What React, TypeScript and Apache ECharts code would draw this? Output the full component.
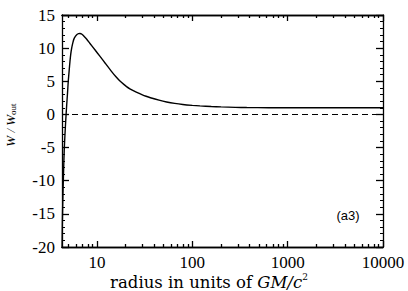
import React, { useEffect, useRef } from "react";
import * as echarts from "echarts";

const radius = [4.29, 4.33, 4.39, 4.45, 4.5, 4.55, 4.61, 4.7, 4.8, 4.9, 4.99, 5.1, 5.2, 5.3, 5.42, 5.57, 5.73, 5.95, 6.16, 6.4, 6.62, 6.95, 7.29, 7.8, 8.43, 9.5, 10.7, 12.3, 14.1, 15.8, 17.4, 19.1, 20.4, 22.1, 24.0, 26.9, 29.5, 32.7, 36.3, 44.7, 53.7, 65.3, 79.4, 100, 120, 158, 200, 282, 372, 631, 1000, 3000, 10000];
const wRatio = [-21, -16, -12, -9, -6.5, -4.7, -3, -0.8, 1.3, 3.2, 5, 6.6, 8, 9.1, 10, 10.8, 11.4, 11.8, 12.05, 12.18, 12.2, 12.1, 11.8, 11.35, 10.7, 9.75, 8.8, 7.65, 6.54, 5.68, 5.04, 4.53, 4.2, 3.87, 3.59, 3.24, 2.99, 2.74, 2.52, 2.15, 1.88, 1.66, 1.5, 1.37, 1.29, 1.195, 1.135, 1.07, 1.035, 1.015, 1.005, 1.0, 1.0];

const xMajorTicks = [10, 100, 1000, 10000];
const xMinorTicks = [5, 6, 7, 8, 9, 20, 30, 40, 50, 60, 70, 80, 90, 200, 300, 400, 500, 600, 700, 800, 900, 2000, 3000, 4000, 5000, 6000, 7000, 8000, 9000];
const xLabels = [10, 100, 1000, 10000];
const xMin = 4.29;
const xMax = 10000;
const yMin = -20;
const yMax = 15;
const yStep = 5;

const GRID = { left: 62, top: 15, right: 25, bottom: 44 };
const tickFont = "Liberation Serif";
const titleFont = "DejaVu Serif";

export default function App() {
  const ref = useRef<HTMLDivElement>(null);
  useEffect(() => {
    if (!ref.current) return;
    const chart = echarts.init(ref.current, null, { renderer: "svg" });
    const lineStyle = { color: "#000", width: 1.3 };
    const xBase = (gridIndex: number, position: string, extra: any) => ({
      type: "log",
      logBase: 10,
      gridIndex,
      position,
      min: xMin,
      max: xMax,
      axisLine: { show: true, onZero: false, lineStyle },
      splitLine: { show: false },
      ...extra,
    });
    const option: any = {
      animation: false,
      backgroundColor: "#fff",
      grid: [
        { ...GRID, containLabel: false },
        { ...GRID, containLabel: false },
      ],
      xAxis: [
        xBase(0, "bottom", {
          axisTick: { show: true, inside: true, length: 6, lineStyle, customValues: xMajorTicks },
          axisLabel: {
            show: true,
            customValues: xLabels,
            margin: 7,
            color: "#000",
            fontFamily: tickFont,
            fontSize: 17,
            formatter: (v: number) => String(Math.round(v)),
          },
        }),
        xBase(0, "top", {
          axisTick: { show: true, inside: true, length: 6, lineStyle, customValues: xMajorTicks },
          axisLabel: { show: false },
        }),
        xBase(1, "bottom", {
          axisTick: { show: true, inside: true, length: 3, lineStyle, customValues: xMinorTicks },
          axisLabel: { show: false },
        }),
        xBase(1, "top", {
          axisTick: { show: true, inside: true, length: 3, lineStyle, customValues: xMinorTicks },
          axisLabel: { show: false },
        }),
      ],
      yAxis: [
        {
          type: "value",
          gridIndex: 0,
          position: "left",
          min: yMin,
          max: yMax,
          interval: yStep,
          axisLine: { show: true, onZero: false, lineStyle },
          axisTick: { show: true, inside: true, length: 7, lineStyle },
          minorTick: { show: true, splitNumber: 5, length: 3, lineStyle: { color: "#000", width: 1 } },
          splitLine: { show: false },
          axisLabel: { show: true, margin: 7, color: "#000", fontFamily: tickFont, fontSize: 17 },
        },
        {
          type: "value",
          gridIndex: 0,
          position: "right",
          min: yMin,
          max: yMax,
          interval: yStep,
          axisLine: { show: true, onZero: false, lineStyle },
          axisTick: { show: true, inside: true, length: 7, lineStyle },
          minorTick: { show: true, splitNumber: 5, length: 3, lineStyle: { color: "#000", width: 1 } },
          splitLine: { show: false },
          axisLabel: { show: false },
        },
        {
          type: "value",
          gridIndex: 1,
          min: yMin,
          max: yMax,
          show: false,
        },
      ],
      series: [
        {
          type: "line",
          xAxisIndex: 0,
          yAxisIndex: 0,
          data: radius.map((r, i) => [r, wRatio[i]]),
          showSymbol: false,
          symbol: "none",
          smooth: 0.2,
          clip: true,
          lineStyle: { color: "#000", width: 1.4 },
          markLine: {
            silent: true,
            symbol: "none",
            label: { show: false },
            lineStyle: { color: "#000", width: 1, type: [6, 4] },
            data: [{ yAxis: 0 }],
          },
        },
      ],
      graphic: [
        {
          type: "text",
          x: 10,
          y: 125,
          rotation: Math.PI / 2,
          style: {
            text: "{a|W / W}{b|out}",
            align: "center",
            verticalAlign: "middle",
            fill: "#000",
            rich: {
              a: { fontFamily: "Liberation Serif", fontStyle: "italic", fontSize: 13, fill: "#000" },
              b: { fontFamily: "Liberation Serif", fontSize: 9, fill: "#000", padding: [6, 0, 0, 0] },
            },
          },
        },
        {
          type: "text",
          x: 209,
          y: 282,
          style: {
            text: "{n|radius in units of }{i|GM/c}{s|2}",
            align: "center",
            verticalAlign: "middle",
            fill: "#000",
            rich: {
              n: { fontFamily: titleFont, fontSize: 16.5, fill: "#000" },
              i: { fontFamily: titleFont, fontStyle: "italic", fontSize: 16.5, fill: "#000" },
              s: { fontFamily: titleFont, fontSize: 9, fill: "#000", padding: [0, 0, 10, 0] },
            },
          },
        },
        {
          type: "text",
          x: 348,
          y: 215,
          style: {
            text: "(a3)",
            align: "center",
            verticalAlign: "middle",
            fill: "#000",
            font: "13px 'Liberation Sans'",
          },
        },
      ],
    };
    chart.setOption(option);
    return () => chart.dispose();
  }, []);
  return (
    <div
      ref={ref}
      style={{ position: "absolute", left: 0, top: 0, width: 408, height: 291 }}
    />
  );
}
